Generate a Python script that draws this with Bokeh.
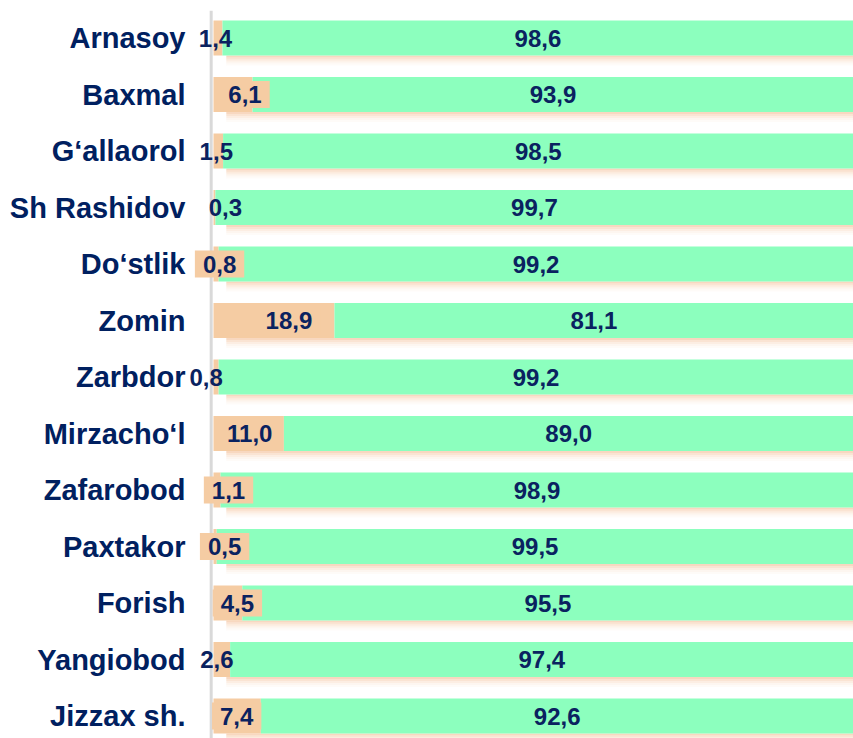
from bokeh.plotting import figure
from bokeh.models import ColumnDataSource, Range1d, FixedTicker, Span
from bokeh.core.properties import value
from bokeh.embed import file_html
from bokeh.resources import INLINE

# ---- data ----
categories = ["Arnasoy", "Baxmal", "G‘allaorol", "Sh Rashidov", "Do‘stlik", "Zomin",
              "Zarbdor", "Mirzacho‘l", "Zafarobod", "Paxtakor", "Forish", "Yangiobod",
              "Jizzax sh."]
share_a = [1.4, 6.1, 1.5, 0.3, 0.8, 18.9, 0.8, 11.0, 1.1, 0.5, 4.5, 2.6, 7.4]
share_b = [98.6, 93.9, 98.5, 99.7, 99.2, 81.1, 99.2, 89.0, 98.9, 99.5, 95.5, 97.4, 92.6]

# label placement (styling): pixel offsets and whether the label has a filled box
label_dx = [-2.5, 12, -2, 11, 3.5, 15, -10, 1, 11.5, 9.5, 9.5, -5, -0.5]
label_box = [False, True, False, False, True, True, False, True, True, True, True, False, True]

ORANGE = "#F5CCA3"
GREEN = "#8CFFBE"
NAVY = "#002060"
VAL = "#0A2260"
FONT = "Liberation Sans"

n = len(categories)
ypos = list(range(n - 1, -1, -1))
fmt = lambda v: f"{v:.1f}".replace(".", ",")

src = ColumnDataSource(dict(
    y=ypos,
    a=share_a,
    ab=[a + b for a, b in zip(share_a, share_b)],
    amid=[a / 2 for a in share_a],
    bmid=[a + b / 2 for a, b in zip(share_a, share_b)],
    alab=[fmt(v) for v in share_a],
    blab=[fmt(v) for v in share_b],
    dx=label_dx,
))

def subset(flag):
    idx = [i for i in range(n) if label_box[i] == flag]
    return ColumnDataSource({k: [v[i] for i in idx] for k, v in src.data.items()})

PX_PER_Y = 56.5
BAR_H = 35 / PX_PER_Y

p = figure(width=853, height=738, output_backend="svg", toolbar_location=None,
           x_range=Range1d(-3.906, 100), y_range=Range1d(-0.398, 12.487),
           min_border_left=188, min_border_right=0, min_border_top=10, min_border_bottom=0)

p.xaxis.visible = False
p.xgrid.visible = False
p.ygrid.visible = False
p.outline_line_color = None
p.background_fill_color = "white"

# axis line
p.add_layout(Span(location=-0.36, dimension="height", line_color="#D9D9D9",
                  line_width=3, level="underlay"))

# soft shadow under bars
dh = 2 / PX_PER_Y
for k, al in enumerate([0.55, 0.38, 0.24, 0.13, 0.06]):
    p.hbar(y=[y - BAR_H / 2 - (k + 0.5) * dh for y in ypos], left=2,
           right=[a + b for a, b in zip(share_a, share_b)], height=dh,
           fill_color="#F2B88C", fill_alpha=al, line_color=None)

p.hbar(y="y", left=0, right="a", height=BAR_H, source=src,
       fill_color=ORANGE, line_color=None)
p.hbar(y="y", left="a", right="ab", height=BAR_H, source=src,
       fill_color=GREEN, line_color=None)

# green labels
p.text(x="bmid", y="y", text="blab", source=src, text_align="center",
       text_baseline="middle", text_font=value(FONT), text_font_style="bold",
       text_font_size="24px", text_color=VAL)

# orange labels without box
p.text(x="amid", y="y", text="alab", x_offset="dx", source=subset(False),
       text_align="center", text_baseline="middle", text_font=value(FONT),
       text_font_style="bold", text_font_size="24px", text_color=VAL)
# orange labels with filled box
p.text(x="amid", y="y", text="alab", x_offset="dx", source=subset(True),
       text_align="center", text_baseline="middle", text_font=value(FONT),
       text_font_style="bold", text_font_size="24px", text_color=VAL,
       background_fill_color=ORANGE, background_fill_alpha=1.0,
       padding=dict(left=8, right=8, top=5, bottom=5))

# category axis
p.yaxis.ticker = FixedTicker(ticks=ypos)
p.yaxis.major_label_overrides = {y: c for y, c in zip(ypos, categories)}
p.yaxis.axis_line_color = None
p.yaxis.major_tick_line_color = None
p.yaxis.minor_tick_line_color = None
p.yaxis.major_tick_out = 0
p.yaxis.major_tick_in = 0
p.yaxis.major_label_standoff = 3
p.yaxis.major_label_text_font = FONT
p.yaxis.major_label_text_font_style = "bold"
p.yaxis.major_label_text_font_size = "29px"
p.yaxis.major_label_text_color = NAVY

open("out.html", "w").write(file_html(p, INLINE))
